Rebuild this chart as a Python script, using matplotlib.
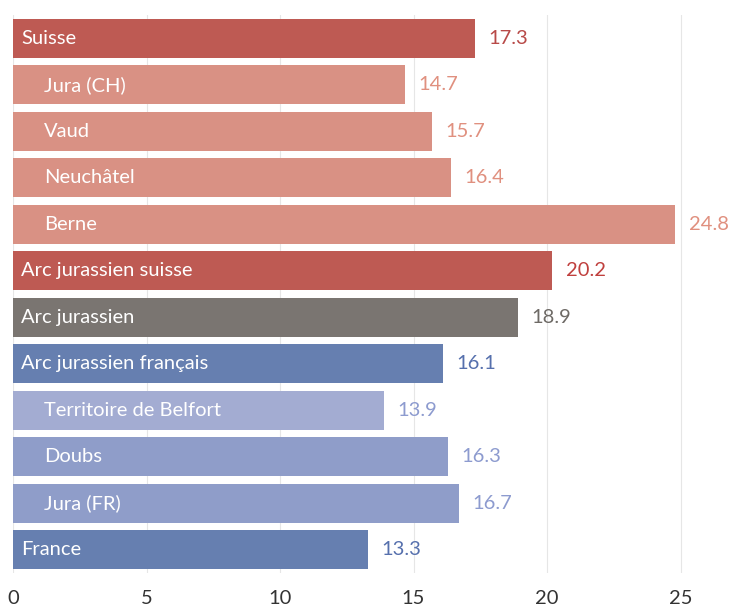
import matplotlib
matplotlib.use("Agg")
import matplotlib.pyplot as plt

labels = ["Suisse", "Jura (CH)", "Vaud", "Neuchâtel", "Berne",
          "Arc jurassien suisse", "Arc jurassien", "Arc jurassien français",
          "Territoire de Belfort", "Doubs", "Jura (FR)", "France"]
values = [17.3, 14.7, 15.7, 16.4, 24.8, 20.2, 18.9, 16.1, 13.9, 16.3, 16.7, 13.3]
indented = [False, True, True, True, True, False, False, False, True, True, True, False]
bar_colors = ["#BE5A53", "#D99184", "#D99184", "#D99184", "#D99184",
              "#BE5A53", "#7A7571", "#667FB0", "#A3ACD2", "#8F9DC9", "#8F9DC9", "#667FB0"]
value_colors = ["#B84A48", "#E0907F", "#E0907F", "#E0907F", "#E0907F",
                "#C0403E", "#6E6A66", "#5670AD", "#8D9BCF", "#8D9BCF", "#8D9BCF", "#5670AD"]
xticks = [0, 5, 10, 15, 20, 25]

plt.rcParams['font.family'] = ['Lato', 'DejaVu Sans']

fig = plt.figure(figsize=(7.31, 6.10), dpi=100)
ax = fig.add_axes([13 / 731, 37 / 610, 718 / 731, 558 / 610])

ypos = list(range(len(labels)))
ax.barh(ypos, values, height=0.84, color=bar_colors, zorder=2)
ax.set_ylim(len(labels) - 0.5, -0.5)
ax.set_xlim(0, 718 / 26.7)

for y, lab, v, ind, c in zip(ypos, labels, values, indented, value_colors):
    ax.text(0.3 if not ind else 1.15, y, lab, color="white", fontsize=14.5,
            va="center", ha="left", zorder=3)
    ax.text(v + 0.5, y, f"{v:.1f}", color=c, fontsize=14.5, va="center",
            ha="left", zorder=3)

ax.set_xticks(xticks)
ax.set_xticklabels([str(t) for t in xticks], fontsize=14.5, color="#333333")
ax.set_yticks([])
ax.tick_params(axis="x", length=0, pad=12)
ax.grid(axis="x", color="#E6E6E6", linewidth=0.8, zorder=0)
for s in ax.spines.values():
    s.set_visible(False)

fig.savefig("out.png", dpi=100)
